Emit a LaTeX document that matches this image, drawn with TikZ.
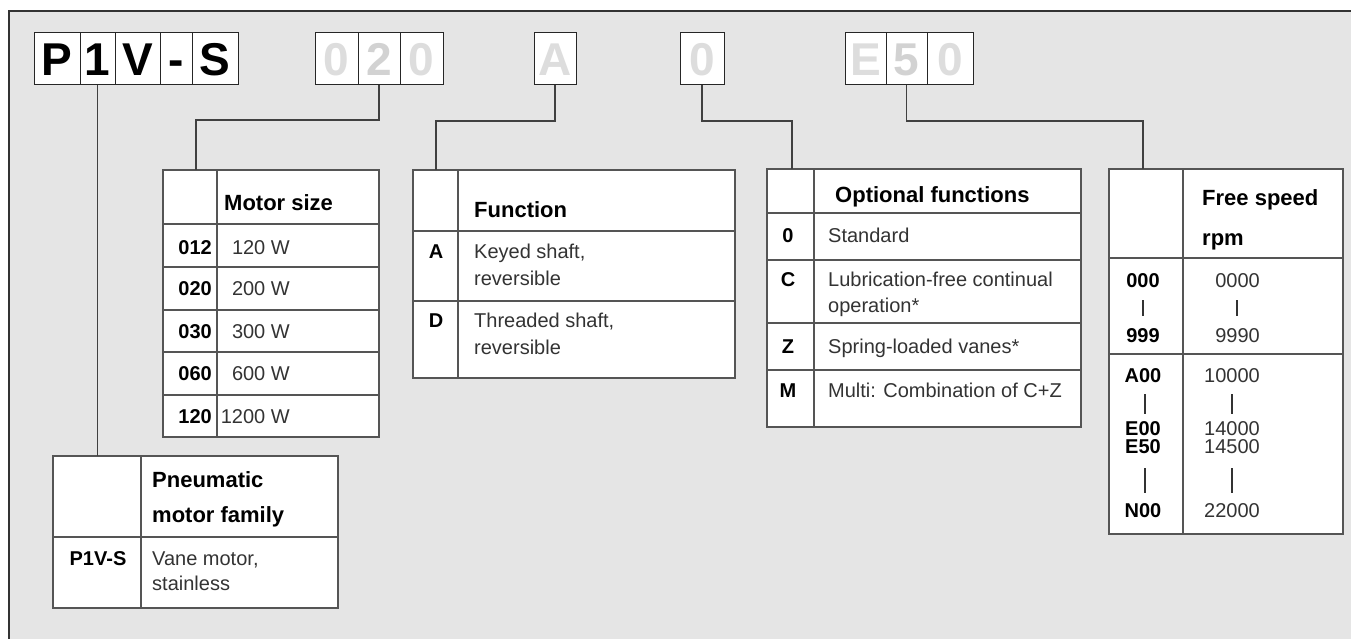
\documentclass[tikz,border=0pt]{standalone}
\usepackage{fontspec}
\setmainfont{Liberation Sans}
\usetikzlibrary{positioning}
\definecolor{bggray}{RGB}{229,229,229}
\definecolor{linegray}{RGB}{85,85,85}
\definecolor{ghost}{RGB}{221,221,221}
\definecolor{ghostdk}{RGB}{210,210,210}
\tikzset{
  code/.style={draw=black!85, fill=white, line width=1pt, inner sep=0pt, outer sep=0pt,
    minimum height=52pt, text height=33pt, text depth=0pt, font=\fontsize{46}{46}\selectfont\bfseries},
  tabbox/.style={draw=linegray, fill=white, line width=1.1pt, inner sep=0pt, outer sep=0pt, anchor=north west},
  tab/.style={draw=linegray, line width=1.1pt},
  conn/.style={draw=black!75, line width=1.4pt},
  bar/.style={draw=black!80, line width=1.1pt},
  hdr/.style={inner sep=0pt, anchor=base west, font=\fontsize{22}{26}\selectfont\bfseries},
  txt/.style={inner sep=0pt, anchor=base west, text=black!80, font=\fontsize{20}{24}\selectfont},
  key/.style={inner sep=0pt, anchor=base, font=\fontsize{20}{24}\selectfont\bfseries},
}

\begin{document}
\begin{tikzpicture}[x=1pt, y=-1pt]
  \useasboundingbox (0,0) rectangle (1351,639);
  \fill[bggray] (9,11) rectangle (1351,639);
  \draw[line width=1.5pt, black!80] (9,639) -- (9,11) -- (1351,11);

  % order code
  \node[code, minimum width=46pt] (cP) at (57,59) {P};
  \node[code, minimum width=35pt, right=0pt of cP] (c1) {1};
  \node[code, minimum width=45pt, right=0pt of c1] (cV) {V};
  \node[code, minimum width=32pt, right=0pt of cV] (cdash) {-};
  \node[code, minimum width=46pt, right=0pt of cdash] (cS) {S};

  \node[code, minimum width=43pt, text=ghost] (s0a) at (336.5,59) {0};
  \node[code, minimum width=42pt, text=ghostdk, right=0pt of s0a] (s2) {2};
  \node[code, minimum width=43pt, text=ghost, right=0pt of s2] (s0b) {0};

  \node[code, minimum width=42pt, text=ghost] (fA) at (555,59) {A};

  \node[code, minimum width=44pt, text=ghost] (o0) at (702,59) {0};

  \node[code, minimum width=41pt, text=ghost] (vE) at (865.5,59) {E};
  \node[code, minimum width=41pt, text=ghostdk, right=0pt of vE] (v5) {5};
  \node[code, minimum width=46pt, text=ghost, right=0pt of v5] (v0) {0};

  % tables
  \node[tabbox, minimum width=216pt, minimum height=267pt] (tmotor) at (163,170) {};
  \node[tabbox, minimum width=322pt, minimum height=208pt] (tfun) at (413,170) {};
  \node[tabbox, minimum width=314pt, minimum height=258pt] (topt) at (767,169) {};
  \node[tabbox, minimum width=234pt, minimum height=365pt] (tspd) at (1109,169) {};
  \node[tabbox, minimum width=285pt, minimum height=152pt] (tfam) at (53,456) {};

  % connectors
  \draw[conn] (c1.south) -- (c1.south |- tfam.north);
  \draw[conn] (s2.south) -- ++(0,35) -| ([xshift=33pt]tmotor.north west);
  \draw[conn] (fA.south) -- ++(0,36) -| ([xshift=23pt]tfun.north west);
  \draw[conn] (o0.south) -- ++(0,36) -| ([xshift=25pt]topt.north west);
  \draw[conn] (v5.south) -- ++(0,36) -| ([xshift=34pt]tspd.north west);

  % motor size
  \draw[tab] (217,170) -- (217,437);
  \foreach \y in {224,267,310,352,395} \draw[tab] (163,\y) -- (379,\y);
  \node[hdr] (hmotor) at (224,211) {Motor size};
  \foreach \k/\v/\y in {012/120 W/254, 020/200 W/295, 030/300 W/338, 060/600 W/380, 120/1200 W/423} {
    \node[key, anchor=base east] (m\k) at (212,\y) {\k};
    \node[txt, anchor=base east] (mv\k) at (290,\y) {\v};
  }

  % function
  \draw[tab] (458,170) -- (458,378);
  \draw[tab] (413,231) -- (735,231);
  \draw[tab] (413,301) -- (735,301);
  \node[hdr] (hfun) at (474,218) {Function};
  \node[key] (fa) at (436,258) {A};
  \node[txt] (fa1) at (474,258) {Keyed shaft,};
  \node[txt] (fa2) at (474,285) {reversible};
  \node[key] (fd) at (436,327) {D};
  \node[txt] (fd1) at (474,327) {Threaded shaft,};
  \node[txt] (fd2) at (474,354) {reversible};

  % optional functions
  \draw[tab] (814,169) -- (814,427);
  \foreach \y in {213,260,323,370} \draw[tab] (767,\y) -- (1081,\y);
  \node[hdr] (hopt) at (835,202) {Optional functions};
  \node[key] (o0k) at (788,242) {0};
  \node[txt] (o0t) at (828,242) {Standard};
  \node[key] (oCk) at (788,286) {C};
  \node[txt] (oCt) at (828,286) {Lubrication-free continual};
  \node[txt] (oCt2) at (828,312) {operation*};
  \node[key] (oZk) at (788,353) {Z};
  \node[txt] (oZt) at (828,353) {Spring-loaded vanes*};
  \node[key] (oMk) at (788,397) {M};
  \node[txt] (oMt) at (828,397) {Multi: Combination of C+Z};

  % free speed
  \draw[tab] (1183,169) -- (1183,534);
  \draw[tab] (1109,258) -- (1343,258);
  \draw[tab] (1109,354) -- (1343,354);
  \node[hdr] (hspd) at (1202,205) {Free speed};
  \node[hdr] (hrpm) at (1202,245) {rpm};
  \foreach \k/\v/\y in {000/0000/287, 999/9990/342, A00/10000/382, E00/14000/435, E50/14500/453, N00/22000/517} {
    \node[key] (s\k) at (1143,\y) {\k};
    \node[txt, anchor=base east] (sv\k) at (1260,\y) {\v};
  }
  \draw[bar] (1143,300) -- (1143,316);
  \draw[bar] (1237,300) -- (1237,316);
  \draw[bar] (1145,394) -- (1145,414);
  \draw[bar] (1232,394) -- (1232,414);
  \draw[bar] (1145,468) -- (1145,493);
  \draw[bar] (1232,468) -- (1232,493);

  % motor family
  \draw[tab] (141,456) -- (141,608);
  \draw[tab] (53,537) -- (338,537);
  \node[hdr] (hfam1) at (152,487) {Pneumatic};
  \node[hdr] (hfam2) at (152,522) {motor family};
  \node[key] (famk) at (98,565) {P1V-S};
  \node[txt] (famt1) at (152,565) {Vane motor,};
  \node[txt] (famt2) at (152,590) {stainless};
\end{tikzpicture}
\end{document}
